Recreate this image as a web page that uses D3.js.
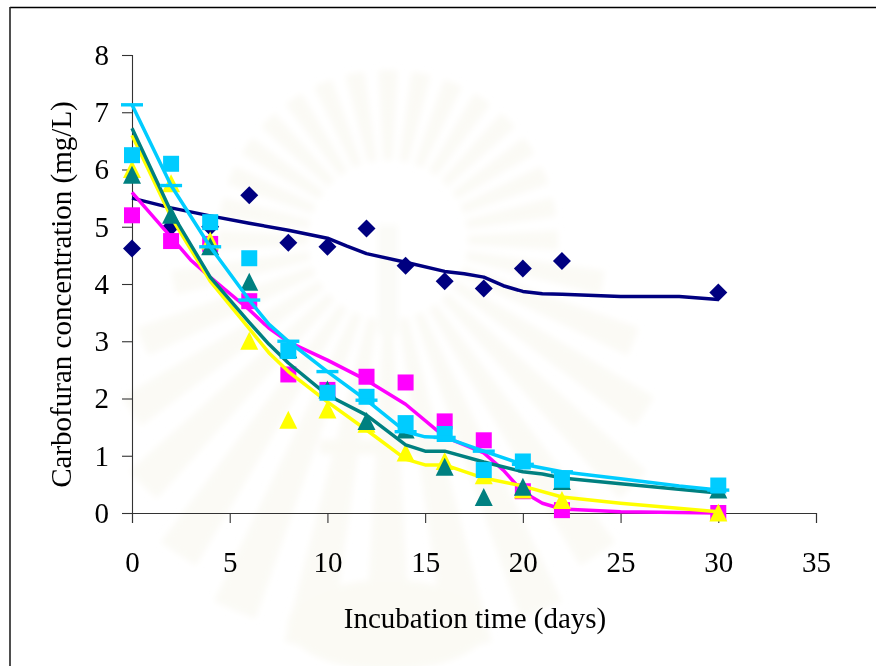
<!DOCTYPE html>
<html>

<head>
	<meta charset="utf-8">
	<title>Carbofuran concentration</title>
	<script src="https://cdn.jsdelivr.net/npm/d3@7/dist/d3.min.js"></script>
	<style>
		html, body { margin: 0; padding: 0; background: #fff; }
		svg { display: block; }
		text { font-family: "Liberation Serif", serif; fill: #000; }
	</style>
</head>

<body>
	<svg id="chart" width="876" height="666"></svg>

	<script type="text/javascript">
		// measured points, x is the sampling day
		var days = [0, 2, 4, 6, 8, 10, 12, 14, 16, 18, 20, 22, 30];
		var navyPoints = [4.62, 5.0, 5.0, 5.55, 4.72, 4.65, 4.97, 4.32, 4.05, 3.92, 4.27, 4.4, 3.85];
		var magentaPoints = [5.2, 4.75, 4.7, 3.7, 2.42, 2.15, 2.38, 2.28, 1.6, 1.27, 0.38, 0.05, 0.0];
		var yellowPoints = [6.0, 5.75, 4.75, 3.0, 1.62, 1.8, 1.55, 1.05, 0.9, 0.65, 0.4, 0.22, 0.0];
		var tealPoints = [5.9, 5.2, 4.65, 4.03, 2.85, 2.15, 1.6, 1.45, 0.8, 0.27, 0.45, 0.55, 0.4];
		var bluePoints = [6.25, 6.1, 5.08, 4.45, 2.83, 2.1, 2.03, 1.57, 1.38, 0.75, 0.9, 0.58, 0.48];
		var dashPoints = [7.13, 5.72, 4.65, 3.72, 3.0, 2.47, 1.97, 1.42, 1.32, 1.08, 0.85, 0.72, 0.4];

		// fitted curves
		var navyLineX = [0, 2, 4, 6, 8, 10, 11, 12, 14, 16, 17, 18, 19, 20, 21, 22, 25, 28, 30];
		var navyLineY = [5.5, 5.33, 5.19, 5.06, 4.94, 4.8, 4.66, 4.53, 4.38, 4.22, 4.18, 4.12, 3.97, 3.87, 3.83, 3.82, 3.78, 3.78, 3.73];
		var magentaLineX = [0, 2, 3, 4, 6, 7, 8, 10, 12, 14, 16, 18, 19, 20, 21, 22, 25, 30];
		var magentaLineY = [5.6, 4.82, 4.42, 4.12, 3.55, 3.23, 2.99, 2.67, 2.32, 1.9, 1.33, 1.05, 0.75, 0.37, 0.17, 0.07, 0.02, 0.0];
		var yellowLineX = [0, 2, 4, 6, 7, 8, 10, 12, 14, 15, 16, 18, 20, 22, 25, 30];
		var yellowLineY = [6.6, 5.17, 4.05, 3.22, 2.8, 2.47, 1.94, 1.45, 0.94, 0.84, 0.84, 0.61, 0.47, 0.28, 0.17, 0.02];
		var tealLineX = [0, 2, 4, 6, 7, 8, 10, 12, 14, 15, 16, 18, 20, 21, 22, 25, 30];
		var tealLineY = [6.72, 5.26, 4.12, 3.33, 2.95, 2.62, 2.06, 1.71, 1.19, 1.08, 1.08, 0.89, 0.72, 0.68, 0.61, 0.51, 0.35];
		var blueLineX = [0, 2, 4, 6, 7, 8, 10, 12, 14, 15, 16, 18, 20, 22, 25, 28, 30];
		var blueLineY = [7.13, 5.72, 4.65, 3.72, 3.3, 3.0, 2.47, 1.97, 1.42, 1.33, 1.32, 1.08, 0.85, 0.72, 0.6, 0.47, 0.4];

		var xTicks = [0, 5, 10, 15, 20, 25, 30, 35];
		var yTicks = [0, 1, 2, 3, 4, 5, 6, 7, 8];

		var navy = '#000080', magenta = '#ff00ff', yellow = '#ffff00', teal = '#008080', blue = '#00ccff';

		var svg = d3.select('#chart');

		var x = d3.scaleLinear().domain([0, 35]).range([132, 816]);
		var y = d3.scaleLinear().domain([0, 8]).range([513, 55]);

		// faint scanned watermark behind the plot
		var defs = svg.append('defs');
		defs.append('filter').attr('id', 'soft').append('feGaussianBlur').attr('stdDeviation', 3);
		var mark = svg.append('g').attr('filter', 'url(#soft)');
		var rays = d3.range(0, 360, 11.25);
		var rayArc = d3.arc().innerRadius(80);
		mark.selectAll('path')
			.data(rays)
			.enter()
			.append('path')
			.attr('transform', 'translate(388,240)')
			.attr('fill', '#fbfaf5')
			.attr('d', a => {
				var lower = Math.max(0, -Math.cos(a * Math.PI / 180));
				return rayArc({
					outerRadius: 170 + lower * 250,
					startAngle: (a - 3.2) * Math.PI / 180,
					endAngle: (a + 3.2) * Math.PI / 180
				});
			});
		mark.append('rect').attr('x', 378).attr('y', 225).attr('width', 20).attr('height', 110).attr('fill', '#fbfbf7');
		mark.append('rect').attr('x', 320).attr('y', 440).attr('width', 140).attr('height', 14).attr('fill', '#fbfaf4');
		mark.append('ellipse').attr('cx', 388).attr('cy', 625).attr('rx', 100).attr('ry', 45).attr('fill', '#fbfaf4');

		// page frame, only top and left survive in the scan
		svg.append('line').attr('x1', 10).attr('x2', 876).attr('y1', 7.5).attr('y2', 7.5)
			.attr('stroke', '#000').attr('stroke-width', 1.5);
		svg.append('line').attr('x1', 10).attr('x2', 10).attr('y1', 7).attr('y2', 666)
			.attr('stroke', '#222').attr('stroke-width', 1.6);

		// axes
		var xAxis = d3.axisBottom(x).tickValues(xTicks).tickSize(10).tickPadding(28).tickFormat(d3.format('d'));
		var yAxis = d3.axisLeft(y).tickValues(yTicks).tickSize(10).tickPadding(13).tickFormat(d3.format('d'));

		var gx = svg.append('g').attr('transform', 'translate(0,513)').call(xAxis);
		var gy = svg.append('g').attr('transform', 'translate(132,0)').call(yAxis);
		[gx, gy].forEach(g => {
			g.select('.domain').attr('stroke', '#333').attr('stroke-width', 1.1);
			g.selectAll('.tick line').attr('stroke', '#333').attr('stroke-width', 1.1);
			g.selectAll('text').attr('font-size', 29).attr('font-family', '"Liberation Serif", serif');
		});

		svg.append('text')
			.attr('x', 475).attr('y', 628)
			.attr('text-anchor', 'middle')
			.attr('font-size', 29)
			.text('Incubation time (days)');

		svg.append('text')
			.attr('transform', 'translate(71,294.5) rotate(-90)')
			.attr('text-anchor', 'middle')
			.attr('font-size', 29)
			.text('Carbofuran concentration (mg/L)');

		var line = d3.line().x(d => x(d[0])).y(d => y(d[1]));
		var sym = (type, size) => d3.symbol().type(type).size(size)();

		function drawLine(xs, ys, color, width) {
			svg.append('path')
				.attr('fill', 'none')
				.attr('stroke', color)
				.attr('stroke-width', width)
				.attr('stroke-linejoin', 'round')
				.attr('d', line(d3.zip(xs, ys)));
		}

		function drawMarks(values, shape, color) {
			svg.append('g')
				.selectAll('path')
				.data(d3.zip(days, values))
				.enter()
				.append('path')
				.attr('transform', d => 'translate(' + x(d[0]) + ',' + y(d[1]) + ')')
				.attr('fill', color)
				.attr('d', shape);
		}

		var diamond = sym(d3.symbolSquare, 162);
		var square = sym(d3.symbolSquare, 256);
		var triangle = 'M0,-9.5L9,8.5H-9Z';
		var dash = 'M-11,-1.7H11V1.7H-11Z';

		drawLine(navyLineX, navyLineY, navy, 3.5);
		svg.append('g')
			.selectAll('path')
			.data(d3.zip(days, navyPoints))
			.enter()
			.append('path')
			.attr('transform', d => 'translate(' + x(d[0]) + ',' + y(d[1]) + ') rotate(45)')
			.attr('fill', navy)
			.attr('d', diamond);

		drawMarks(magentaPoints, square, magenta);
		drawLine(magentaLineX, magentaLineY, magenta, 3.5);
		drawMarks(yellowPoints, triangle, yellow);
		drawLine(yellowLineX, yellowLineY, yellow, 3.5);
		drawMarks(tealPoints, triangle, teal);
		drawLine(tealLineX, tealLineY, teal, 3.5);
		drawMarks(bluePoints, square, blue);
		drawLine(blueLineX, blueLineY, blue, 3.5);
		drawMarks(dashPoints, dash, blue);
	</script>
</body>

</html>
